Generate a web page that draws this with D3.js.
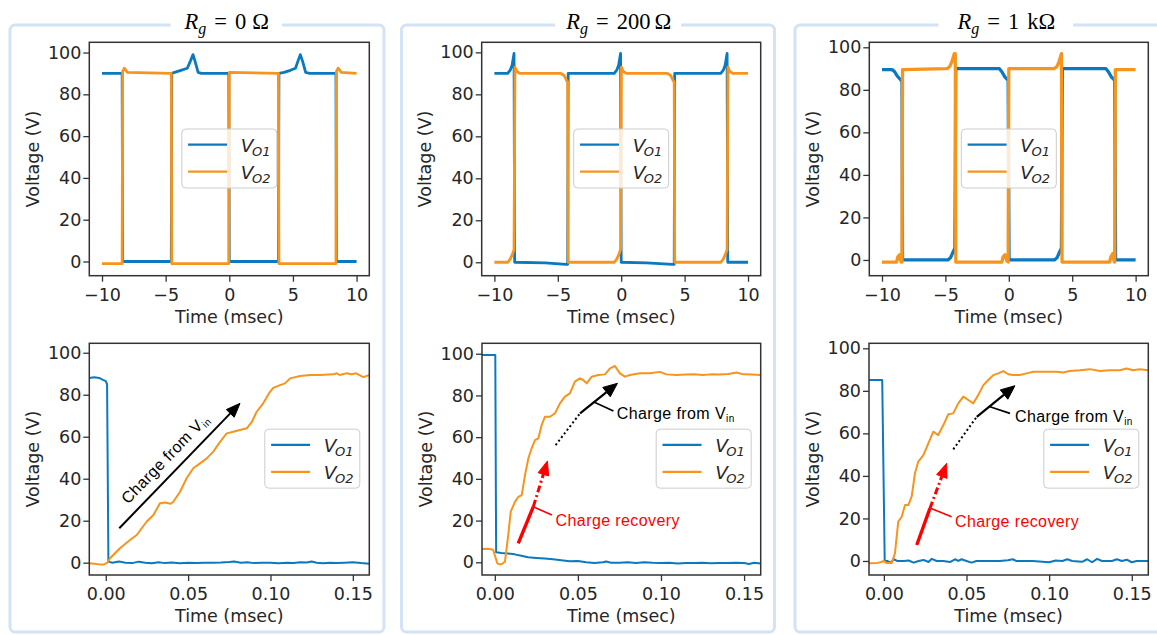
<!DOCTYPE html>
<html>
<head>
<meta charset="utf-8">
<script src="https://cdn.jsdelivr.net/npm/d3@7"></script>
<style>
  html, body { margin: 0; padding: 0; background: #fff; }
  svg { display: block; }
  .tick text { font-family: "DejaVu Sans", sans-serif; font-size: 17.5px; fill: #262626; }
  .tick line { stroke: #333; stroke-width: 1.3; }
</style>
</head>
<body>
<svg id="fig" width="1157" height="635"></svg>
<script>
// ---------- tick labels ----------
const timeTicksTop = [-10, -5, 0, 5, 10];
const timeTicksBottom = [0, 0.05, 0.10, 0.15];
const voltTicks = [0, 20, 40, 60, 80, 100];
const seriesSubs = ["O1", "O2"];
const gateResistors = ["0", "200", "1 k"];

// ---------- switching waveforms, [time (ms), voltage (V)] ----------
const top0_vo1 = [[-10,90],[-8.42,90],[-8.38,0],[-4.56,0],[-4.52,90],[-4.3,90.5],[-3.8,91.5],[-3.3,92.5],[-3.05,96],[-2.85,99],[-2.7,96],[-2.45,90.5],[-2.2,90],[-0.04,90],[0,0],[3.86,0],[3.9,90],[4.3,90.5],[4.8,91.5],[5.2,92.5],[5.4,96],[5.58,99],[5.75,96],[6.0,90.5],[6.3,90],[8.38,90],[8.42,0],[10,0]];
const top0_vo2 = [[-10,-1],[-8.42,-1],[-8.38,91],[-8.25,92.5],[-8.0,90.5],[-4.56,90],[-4.52,-1],[-0.04,-1],[0,90.5],[3.86,90],[3.9,-1],[8.38,-1],[8.42,91],[8.55,92.5],[8.8,90.5],[10,90]];

const top200_vo1 = [[-10,90],[-8.95,90],[-8.75,91.5],[-8.6,94],[-8.45,99.5],[-8.4,0],[-6,-0.3],[-4.35,-1],[-4.22,-1],[-4.18,90],[-0.55,90],[-0.35,91.5],[-0.2,94],[-0.05,99.5],[0,0],[2,-0.3],[4.05,-1],[4.18,-1],[4.22,90],[7.85,90],[8.05,91.5],[8.2,94],[8.35,99.5],[8.4,0],[10,0]];
const top200_vo2 = [[-10,0],[-8.95,0],[-8.75,1.5],[-8.6,3.5],[-8.45,6],[-8.38,93],[-8.25,91],[-8.0,90],[-4.75,90],[-4.5,89],[-4.3,86.5],[-4.22,86],[-4.18,0],[-0.55,0],[-0.35,1.5],[-0.2,3.5],[-0.05,6],[0.02,93],[0.15,91],[0.4,90],[3.65,90],[3.9,89],[4.1,86.5],[4.18,86],[4.22,0],[7.85,0],[8.05,1.5],[8.2,3.5],[8.35,6],[8.42,93],[8.55,91],[8.8,90],[10,90]];

const top1k_vo1 = [[-10,89.5],[-9.2,89.5],[-9.0,88.5],[-8.8,86.5],[-8.5,84.5],[-8.42,84],[-8.38,0],[-4.8,0],[-4.6,1],[-4.45,3],[-4.25,5.5],[-4.18,90],[-0.75,90],[-0.55,88.5],[-0.3,86],[-0.05,84.5],[0.02,0],[3.6,0],[3.8,1],[3.95,3],[4.15,5.5],[4.22,90],[7.65,90],[7.85,88.5],[8.1,86],[8.35,84.5],[8.42,0],[10,0]];
const top1k_vo2 = [[-10,-1],[-8.85,-1],[-8.75,1.5],[-8.6,2.5],[-8.5,-1],[-8.42,-1],[-8.38,89.5],[-4.85,90],[-4.65,91],[-4.5,93],[-4.3,97],[-4.22,97],[-4.18,-1],[-0.55,-1],[-0.45,1.5],[-0.3,2.5],[-0.15,-0.5],[-0.05,-1],[0,90],[3.6,90],[3.8,91],[3.95,93],[4.15,97],[4.2,-1],[7.95,-1],[8.05,1.5],[8.2,3],[8.3,-0.5],[8.35,-1],[8.4,89.5],[10,89.5]];

// ---------- turn-on transients, [time (ms), voltage (V)] ----------
const bot0_vo1 = [[-0.01,88],[-0.007,88.3],[-0.004,88],[-0.002,87.2],[0,86.5],[0.0008,85],[0.0016,0.5],[0.004,0],[0.008,0.6],[0.012,0],[0.016,-0.2],[0.02,0.5],[0.024,0],[0.028,-0.3],[0.032,0.2],[0.036,-0.2],[0.04,0.1],[0.045,-0.3],[0.05,0],[0.055,-0.2],[0.06,0],[0.065,0],[0.07,0.1],[0.075,0.3],[0.078,0.6],[0.082,0],[0.086,0.2],[0.09,-0.2],[0.095,0],[0.1,0],[0.105,-0.3],[0.11,0],[0.114,-0.1],[0.118,0.2],[0.122,0.1],[0.125,0.6],[0.128,0],[0.132,-0.3],[0.136,0],[0.14,-0.2],[0.145,0],[0.15,0.2],[0.155,-0.2],[0.16,-0.5]];
const bot0_vo2 = [[-0.01,-0.3],[-0.007,-0.5],[-0.004,-0.8],[-0.001,-0.8],[0.001,0],[0.0026,2.1],[0.0086,6.9],[0.0147,10.8],[0.0188,13.2],[0.0218,16.4],[0.0248,19.5],[0.0289,22.7],[0.0329,28.3],[0.036,28.7],[0.0394,28.1],[0.041,29],[0.0451,33.8],[0.0491,40.2],[0.0531,45],[0.0572,47.3],[0.0613,49.7],[0.0653,52.9],[0.0694,57.6],[0.0734,61.6],[0.0774,62.4],[0.0815,63.2],[0.0856,64],[0.0886,66.9],[0.0916,71.9],[0.0956,75.9],[0.0997,81.4],[0.1017,83.3],[0.1058,84.6],[0.1088,85.4],[0.1119,87.8],[0.118,88.9],[0.124,89.4],[0.13,89.4],[0.138,89.7],[0.1402,90.2],[0.142,89.4],[0.1463,90.2],[0.1493,89.8],[0.152,90.2],[0.1564,88.4],[0.16,89.4]];

const bot200_vo1 = [[-0.0077,99.4],[0.0003,99.4],[0.0008,4.8],[0.004,4.5],[0.008,4.2],[0.012,3.8],[0.016,3.1],[0.02,2.4],[0.025,2.1],[0.03,1.8],[0.035,1.4],[0.04,1],[0.045,0.5],[0.05,0.6],[0.055,0],[0.06,-0.3],[0.065,0],[0.067,0.4],[0.07,-0.2],[0.075,-0.2],[0.08,0],[0.085,-0.3],[0.09,0],[0.095,-0.2],[0.1,-0.3],[0.105,-0.2],[0.11,-0.6],[0.115,-0.3],[0.12,-0.4],[0.125,-0.2],[0.13,-0.5],[0.135,-0.3],[0.14,-0.4],[0.145,-0.2],[0.15,-0.3],[0.153,-0.8],[0.156,-0.2],[0.16,-0.6]];
const bot200_vo2 = [[-0.0077,6.4],[-0.004,6.5],[-0.001,6],[0.0015,-0.5],[0.003,-1],[0.0042,-0.8],[0.0061,0.3],[0.0081,13.1],[0.0096,24.3],[0.0122,29.1],[0.0142,31.4],[0.0162,32.2],[0.0182,41.9],[0.0202,49.9],[0.0222,54.7],[0.0242,58.6],[0.0262,59.4],[0.0282,65.8],[0.0302,69.8],[0.0332,69.8],[0.0362,71.4],[0.0392,76.2],[0.0422,79.4],[0.0452,81],[0.0482,86.6],[0.0512,88.2],[0.0532,87.4],[0.0553,85.8],[0.0583,89],[0.0623,89.8],[0.0663,90.1],[0.0693,93],[0.0723,94.1],[0.0753,90.6],[0.0783,89],[0.0813,89.8],[0.0873,90.6],[0.0933,90.6],[0.0993,91.3],[0.1033,90.1],[0.1093,89.8],[0.115,90],[0.12,90.2],[0.125,89.8],[0.13,90.1],[0.135,90],[0.1405,90.3],[0.1455,91],[0.1495,90.1],[0.155,90],[0.16,89.8]];

const bot1k_vo1 = [[-0.009,85.1],[-0.001,85.1],[0.0005,0],[0.002,0],[0.004,-0.8],[0.006,0.8],[0.008,0],[0.012,0],[0.015,0.2],[0.018,-0.8],[0.021,0],[0.024,0.5],[0.027,-0.5],[0.029,1],[0.032,0],[0.036,0],[0.04,-0.5],[0.043,0.8],[0.045,0],[0.047,0.8],[0.05,0],[0.053,-0.8],[0.056,0],[0.06,0],[0.065,0],[0.07,0],[0.075,0.3],[0.078,0.8],[0.08,0],[0.085,0],[0.09,0],[0.1,-0.6],[0.104,0.2],[0.108,0],[0.111,0.8],[0.114,0],[0.12,-0.4],[0.123,0.8],[0.126,-0.6],[0.129,1],[0.132,0],[0.138,0],[0.141,0.8],[0.144,0],[0.147,0.6],[0.15,-0.6],[0.153,0],[0.16,0]];
const bot1k_vo2 = [[-0.009,-1.1],[-0.004,-0.9],[-0.002,-0.6],[0,0],[0.0017,-1],[0.0047,-1],[0.0067,3.6],[0.0087,18.5],[0.0108,20.8],[0.0128,26.3],[0.0148,26.3],[0.0168,30.2],[0.0188,41.2],[0.0208,46.7],[0.0239,49.8],[0.0269,55.3],[0.0299,60.8],[0.0329,59.2],[0.036,63.9],[0.039,69],[0.042,69.4],[0.045,74.1],[0.0481,77.3],[0.0511,75.7],[0.0541,74.1],[0.0571,78],[0.0602,82.7],[0.0632,85.1],[0.0662,87.4],[0.0692,88.2],[0.0723,89.3],[0.0753,87.8],[0.0783,87.4],[0.0823,87.4],[0.0864,88.2],[0.0904,89],[0.0985,89],[0.1045,89],[0.1085,88.6],[0.1125,89.3],[0.1186,89.7],[0.1246,90.2],[0.1307,89.3],[0.1367,89.7],[0.1427,89.7],[0.1468,90.5],[0.1508,89.7],[0.1548,90.2],[0.16,89.7]];

// ---------- annotation anchors, in data units of the transient plots ----------
const anno0 = { arrow: [[0.0082,16.4],[0.0815,75.9]] };
const anno200 = {
  dotted: [[0.0366,56.2],[0.0513,71.4]], solid: [[0.0513,71.4],[0.0738,85.8]],
  pointer: [[0.0593,77],[0.0714,72.5]], label: [0.0734,68.7],
  redSolid: [[0.0141,9.1],[0.0232,26.7]], redDash: [[0.0232,26.7],[0.0317,48.6]],
  redPointer: [[0.0228,26.7],[0.0344,22.7]], redLabel: [0.0366,17.5]
};
const anno1k = {
  dotted: [[0.042,52.5],[0.0562,67.8]], solid: [[0.0562,67.8],[0.0793,82.4]],
  pointer: [[0.0642,72.5],[0.0763,69.4]], label: [0.0793,65.2],
  redSolid: [[0.0199,7.5],[0.0279,24.8]], redDash: [[0.0279,24.8],[0.038,45.9]],
  redPointer: [[0.0283,24.8],[0.041,20.8]], redLabel: [0.043,15.8]
};

// ---------- page layout ----------
const BLUE = "#0a79bf", ORANGE = "#f7941d", RED = "#ff0000";
const frames = [
  { box: [10, 25, 374, 607],  ax: [89.3, 369.3],  axB: [89.3, 369.3] },
  { box: [401.5, 25, 373, 607], ax: [481.7, 760.7], axB: [482, 760.7] },
  { box: [795, 25, 372, 607], ax: [869.3, 1148.3], axB: [869, 1148.3] }
];
const TOP = [42.3, 275.7], BOT = [343.3, 575];

const panels = [
  { top: [top0_vo1, top0_vo2], topY: [-6.8, 104.9], bot: [bot0_vo1, bot0_vo2], botX: [-0.01, 0.16], botY: [-5.86, 104.5], topW: 2.8, anno: anno0 },
  { top: [top200_vo1, top200_vo2], topY: [-6.4, 104.8], bot: [bot200_vo1, bot200_vo2], botX: [-0.0077, 0.16], botY: [-6.1, 105.0], topW: 2.8, anno: anno200 },
  { top: [top1k_vo1, top1k_vo2], topY: [-7.4, 102.35], bot: [bot1k_vo1, bot1k_vo2], botX: [-0.009, 0.16], botY: [-6.6, 102.35], topW: 3.3, anno: anno1k }
];

const svg = d3.select("#fig");
const SANS = "'DejaVu Sans', sans-serif";
const ANN = "'Liberation Sans', Arial, sans-serif";
let clipId = 0;

function drawAxes(xr, yr, xDom, yDom, xTicks, xFmt, series, lineW, legendPos) {
  const g = svg.append("g");
  const x = d3.scaleLinear().domain(xDom).range(xr);
  const y = d3.scaleLinear().domain(yDom).range([yr[1], yr[0]]);
  const id = "clip" + (clipId++);
  g.append("clipPath").attr("id", id).append("rect")
    .attr("x", xr[0]).attr("y", yr[0]).attr("width", xr[1] - xr[0]).attr("height", yr[1] - yr[0]);

  const line = d3.line().x(d => x(d[0])).y(d => y(d[1]));
  const colors = [BLUE, ORANGE];
  series.forEach((s, i) => {
    g.append("path").attr("clip-path", `url(#${id})`).attr("d", line(s))
      .attr("fill", "none").attr("stroke", colors[i]).attr("stroke-width", lineW)
      .attr("stroke-linejoin", "round").attr("stroke-linecap", "butt");
  });

  g.append("rect").attr("x", xr[0]).attr("y", yr[0]).attr("width", xr[1] - xr[0]).attr("height", yr[1] - yr[0])
    .attr("fill", "none").attr("stroke", "#333").attr("stroke-width", 1.5);

  const xa = g.append("g").attr("transform", `translate(0,${yr[1]})`)
    .call(d3.axisBottom(x).tickValues(xTicks).tickFormat(xFmt).tickSize(6).tickPadding(7));
  xa.select(".domain").remove();
  const ya = g.append("g").attr("transform", `translate(${xr[0]},0)`)
    .call(d3.axisLeft(y).tickValues(voltTicks).tickSize(6).tickPadding(2));
  ya.select(".domain").remove();

  g.append("text").attr("x", (xr[0] + xr[1]) / 2).attr("y", yr[1] + 47)
    .attr("text-anchor", "middle").attr("font-family", SANS).attr("font-size", 17.5).attr("fill", "#262626")
    .text("Time (msec)");
  g.append("text").attr("transform", `translate(${xr[0] - 56.5},${(yr[0] + yr[1]) / 2}) rotate(-90)`)
    .attr("text-anchor", "middle").attr("dy", "0.35em").attr("font-family", SANS).attr("font-size", 17.5).attr("fill", "#262626")
    .text("Voltage (V)");

  // legend
  const LW = 95, LH = 59;
  const lx = legendPos === "center" ? (xr[0] + xr[1]) / 2 - LW / 2 : xr[1] - 9.5 - LW;
  const ly = (yr[0] + yr[1]) / 2 - LH / 2 - 0.5;
  const lg = g.append("g");
  lg.append("rect").attr("x", lx).attr("y", ly).attr("width", LW).attr("height", LH).attr("rx", 4)
    .attr("fill", "#fff").attr("fill-opacity", 0.8).attr("stroke", "#cccccc").attr("stroke-width", 1);
  seriesSubs.forEach((sub, i) => {
    const yy = ly + 15.7 + i * 27;
    lg.append("line").attr("x1", lx + 6.3).attr("x2", lx + 45.3).attr("y1", yy).attr("y2", yy)
      .attr("stroke", colors[i]).attr("stroke-width", 2.2);
    const t = lg.append("text").attr("x", lx + 59).attr("y", yy + 7.5)
      .attr("font-family", SANS).attr("fill", "#262626").attr("font-style", "italic");
    t.append("tspan").attr("font-size", 18.5).text("V");
    t.append("tspan").attr("font-size", 13).attr("dx", -1.5).attr("dy", 3.5).text(sub);
  });
  return { x, y, g };
}

function head(g, tip, from, L, W, color) {
  const dx = tip[0] - from[0], dy = tip[1] - from[1];
  const len = Math.hypot(dx, dy), ux = dx / len, uy = dy / len;
  const bx = tip[0] - ux * L, by = tip[1] - uy * L;
  g.append("polygon").attr("points",
    [tip, [bx - uy * W / 2, by + ux * W / 2], [bx + uy * W / 2, by - ux * W / 2]].map(p => p.join(",")).join(" "))
    .attr("fill", color).attr("stroke", color).attr("stroke-width", 1).attr("stroke-linejoin", "miter");
  return [bx, by];
}

function seg(g, a, b, color, w, dash) {
  const l = g.append("line").attr("x1", a[0]).attr("y1", a[1]).attr("x2", b[0]).attr("y2", b[1])
    .attr("stroke", color).attr("stroke-width", w);
  if (dash) l.attr("stroke-dasharray", dash);
  return l;
}

function chargeLabel(g, x, y, color, text, sub) {
  const t = g.append("text").attr("x", x).attr("y", y).attr("font-family", ANN).attr("font-size", 16)
    .attr("letter-spacing", 0.4).attr("fill", color);
  t.append("tspan").text(text);
  if (sub) t.append("tspan").attr("font-size", 10).attr("dy", 3).text(sub);
  return t;
}

panels.forEach((p, i) => {
  const f = frames[i];
  const [bx, by, bw, bh] = f.box;
  svg.append("rect").attr("x", bx).attr("y", by).attr("width", bw).attr("height", bh).attr("rx", 5)
    .attr("fill", "none").attr("stroke", "#d3e2f4").attr("stroke-width", 3);

  // panel title with a gap in the frame line
  const cx = (f.ax[0] + f.ax[1]) / 2 - 2.5;
  const tg = svg.append("g");
  const gapRect = tg.append("rect").attr("fill", "#fff");
  const title = tg.append("text").attr("x", cx).attr("y", 28.5).attr("text-anchor", "middle")
    .attr("font-family", "'Liberation Serif', 'DejaVu Serif', serif").attr("font-size", 22.5).attr("fill", "#000");
  title.append("tspan").attr("font-style", "italic").text("R");
  title.append("tspan").attr("font-style", "italic").attr("font-size", 16).attr("dy", 5).text("g");
  title.append("tspan").attr("dy", -5).attr("dx", 8).text("=");
  const val = gateResistors[i];
  if (val === "1 k") {
    title.append("tspan").attr("dx", 8).text("1");
    title.append("tspan").attr("dx", 8).text("k\u03A9");
  } else {
    title.append("tspan").attr("dx", 8).text(val);
    title.append("tspan").attr("dx", val.length > 1 ? 4 : 6).text("\u03A9");
  }
  const bb = title.node().getBBox();
  const pad = i === 2 ? 18 : (i === 1 ? 10 : 13);
  gapRect.attr("x", bb.x - pad).attr("y", by - 3).attr("width", bb.width + 2 * pad).attr("height", 6);

  drawAxes(f.ax, TOP, [-11, 11], p.topY, timeTicksTop, d3.format("d"), p.top, p.topW, "center");
  const B = drawAxes(f.axB, BOT, p.botX, p.botY, timeTicksBottom, d3.format(".2f"), p.bot, 2, "right");
  const P = d => [B.x(d[0]), B.y(d[1])];
  const a = p.anno;
  const ag = svg.append("g");

  if (i === 0) {
    const s = P(a.arrow[0]), e = P(a.arrow[1]);
    const base = head(ag, e, s, 14, 11, "#000");
    seg(ag, s, base, "#000", 2);
    const dx = e[0] - s[0], dy = e[1] - s[1], len = Math.hypot(dx, dy);
    const ux = dx / len, uy = dy / len, nx = uy, ny = -ux; // normal toward upper-left
    const mx = (s[0] + e[0]) / 2 - ux * 5 + nx * 10, my = (s[1] + e[1]) / 2 - uy * 5 + ny * 10;
    const ang = Math.atan2(dy, dx) * 180 / Math.PI;
    const t = ag.append("text").attr("transform", `translate(${mx},${my}) rotate(${ang})`)
      .attr("text-anchor", "middle").attr("font-family", ANN).attr("font-size", 16).attr("letter-spacing", 0.4).attr("fill", "#000");
    t.append("tspan").text("Charge from V");
    t.append("tspan").attr("font-size", 10).attr("dy", 3).text("in");
  } else {
    // black: charge from the input supply
    seg(ag, P(a.dotted[0]), P(a.dotted[1]), "#000", 2, "2,2.6");
    const sEnd = P(a.solid[1]), sStart = P(a.solid[0]);
    const base = head(ag, sEnd, sStart, 14, 12, "#000");
    seg(ag, sStart, base, "#000", 2.2);
    seg(ag, P(a.pointer[0]), P(a.pointer[1]), "#000", 1.6);
    const lb = P(a.label);
    chargeLabel(ag, lb[0], lb[1], "#000", "Charge from V", "in");

    // red: charge recovered from the other bridge leg
    const r0 = P(a.redSolid[0]), r1 = P(a.redSolid[1]), rt = P(a.redDash[1]);
    seg(ag, r0, r1, RED, 3.4);
    const rb = head(ag, rt, r1, 14, 11, RED);
    seg(ag, r1, rb, RED, 3, "7,3,2,3");
    seg(ag, P(a.redPointer[0]), P(a.redPointer[1]), RED, 1.6);
    const rl = P(a.redLabel);
    chargeLabel(ag, rl[0], rl[1], RED, "Charge recovery");
  }
});
</script>
</body>
</html>
